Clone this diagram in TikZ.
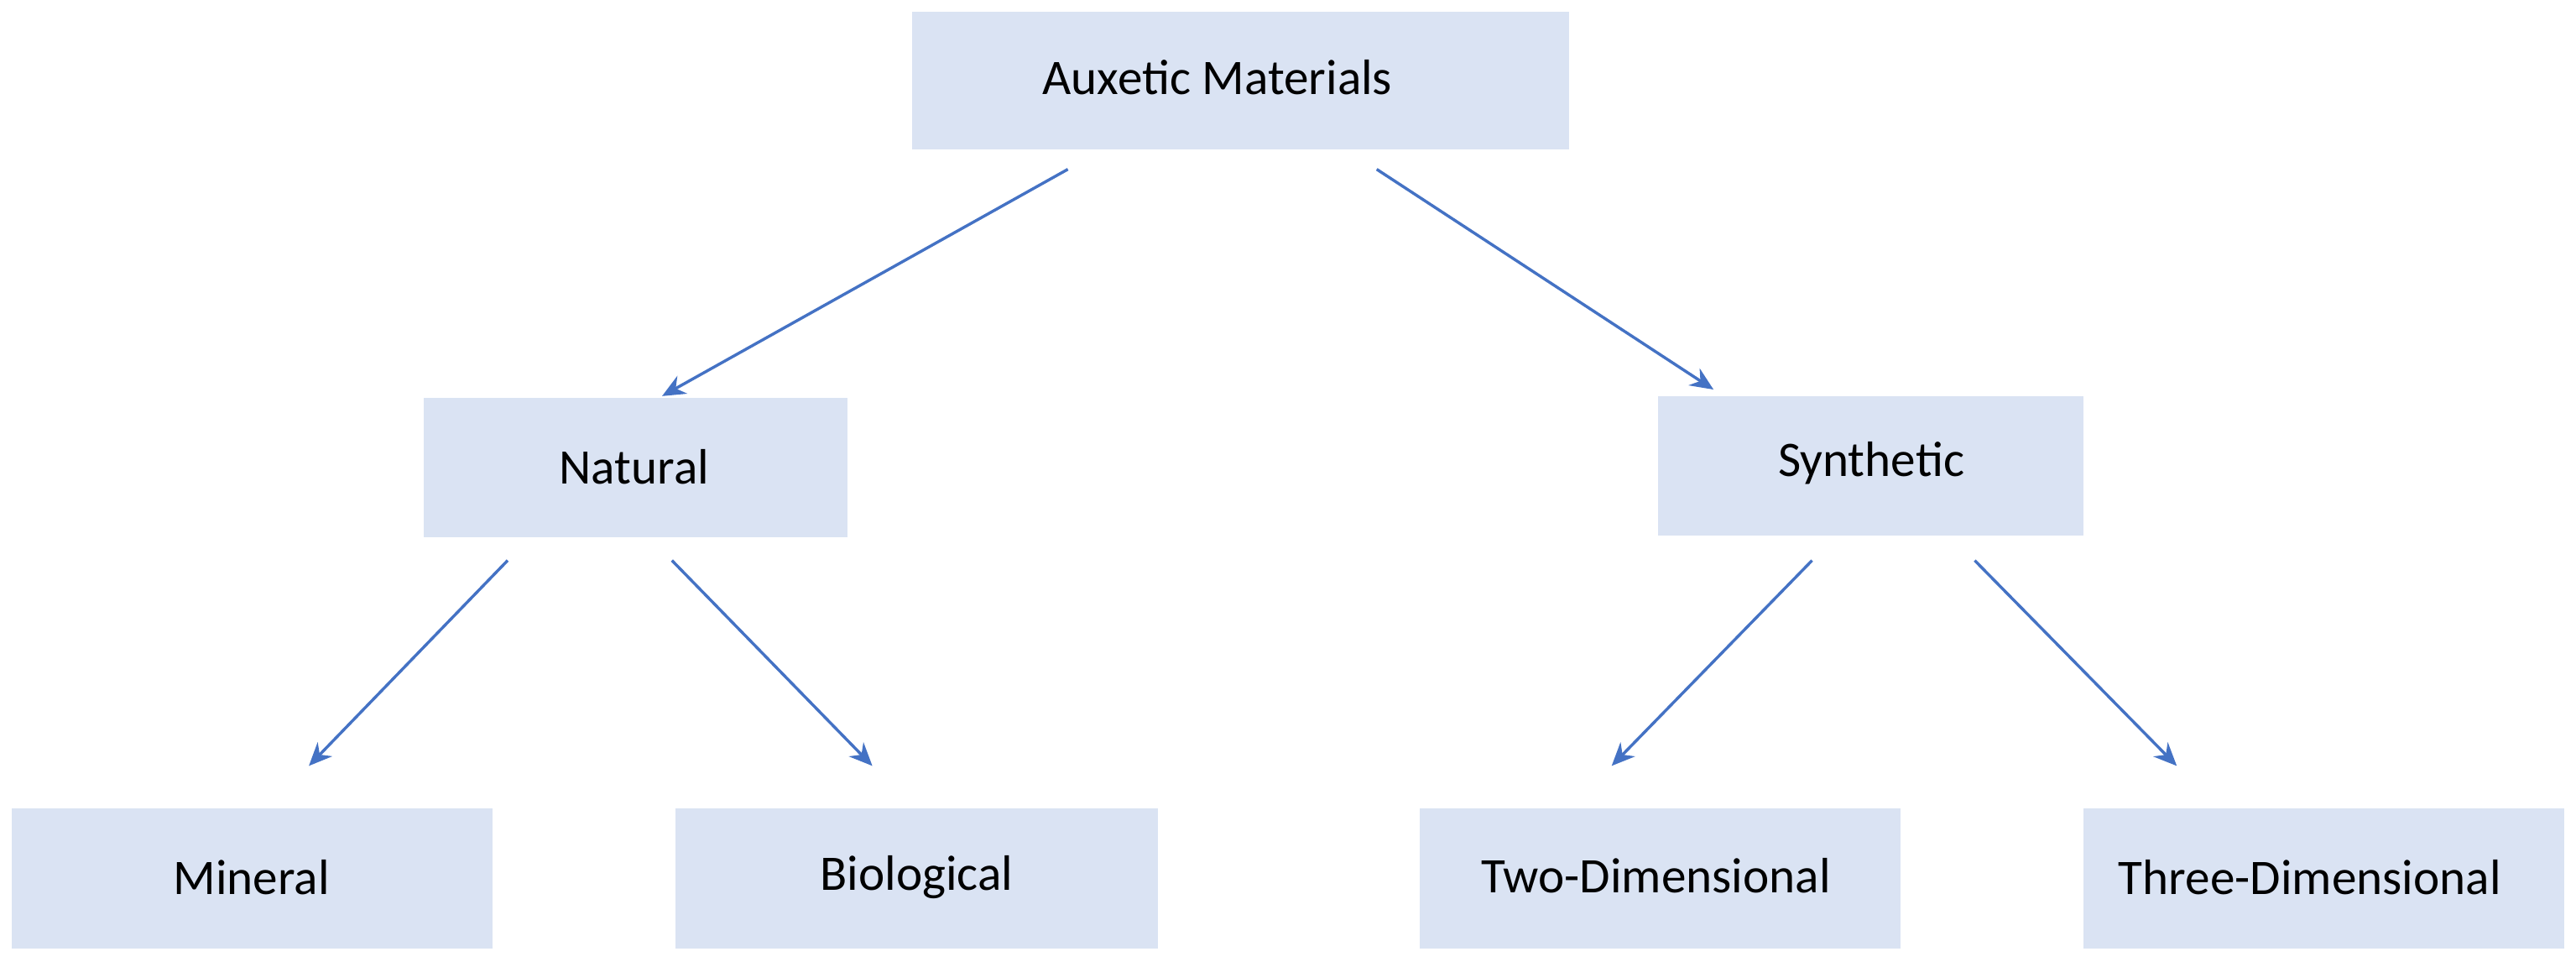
\documentclass[tikz,border=0pt]{standalone}
\usepackage{fontspec}
\setmainfont{Carlito}
\usetikzlibrary{arrows.meta}
\definecolor{boxfill}{HTML}{DAE3F3}
\definecolor{arr}{HTML}{4472C4}
\begin{document}
\begin{tikzpicture}[x=0.01cm,y=-0.01cm,
  box/.style={fill=boxfill,draw=none,inner sep=0pt},
  con/.style={draw=arr,line width=0.5pt,-{Stealth[length=4pt,width=3.5pt]}},
  lbl/.style={font=\fontsize{8.6pt}{10pt}\selectfont}]
\useasboundingbox (0,0) rectangle (1568,585);
\path[box] (555,7) rectangle (955,91);
\node[lbl] (a) at (741,47) {Auxetic Materials};
\path[box] (258,242) rectangle (516,327);
\node[lbl] (n) at (386,284) {Natural};
\path[box] (1009,241) rectangle (1268,326);
\node[lbl] (s) at (1139,282) {Synthetic};
\path[box] (7,492) rectangle (300,577);
\node[lbl] (m) at (153,534) {Mineral};
\path[box] (411,492) rectangle (705,577);
\node[lbl] (b) at (558,534) {Biological};
\path[box] (864,492) rectangle (1157,577);
\node[lbl] (t) at (1008,533) {Two-Dimensional};
\path[box] (1268,492) rectangle (1561,577);
\node[lbl] (h) at (1406,534) {Three-Dimensional};
\coordinate (a1) at (650,103); \coordinate (n0) at (403,241);
\coordinate (a2) at (838,103); \coordinate (s0) at (1043,237);
\coordinate (n1) at (309,341); \coordinate (m0) at (188,466);
\coordinate (n2) at (409,341); \coordinate (b0) at (531,466);
\coordinate (s1) at (1103,341); \coordinate (t0) at (981,466);
\coordinate (s2) at (1202,341); \coordinate (h0) at (1325,466);
\draw[con] (a1) -- (n0);
\draw[con] (a2) -- (s0);
\draw[con] (n1) -- (m0);
\draw[con] (n2) -- (b0);
\draw[con] (s1) -- (t0);
\draw[con] (s2) -- (h0);
\end{tikzpicture}
\end{document}
